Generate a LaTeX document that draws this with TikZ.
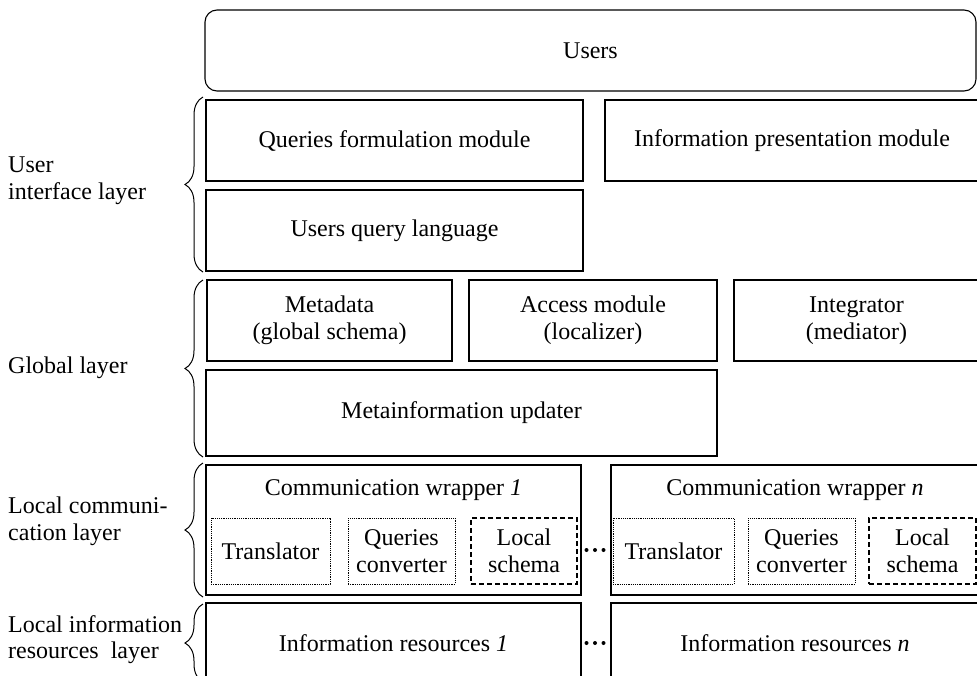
\documentclass[tikz,border=0pt]{standalone}
\usepackage{fontspec}
\setmainfont{Liberation Serif}
\usetikzlibrary{decorations.pathreplacing}
\begin{document}
\begin{tikzpicture}[x=1pt,y=-1pt,
  txt/.style={font=\fontsize{24}{27}\selectfont, inner sep=0pt},
  box/.style={txt, draw, line width=1.1pt, align=center, anchor=center},
  dotbox/.style={txt, draw, line width=1pt, dash pattern=on 1.2pt off 1pt, align=center, anchor=center},
  dashbox/.style={txt, draw, line width=1.1pt, dash pattern=on 5pt off 3pt, align=center, anchor=center},
  sz/.style 2 args={minimum width=#1pt, minimum height=#2pt},
  lbl/.style={txt, anchor=base west},
  layerbrace/.style={draw, line width=1pt, decorate, decoration={brace, amplitude=18pt}}]
\useasboundingbox (0,0) rectangle (977,675);
\clip (0,0) rectangle (977,675);

% users
\node[box, rounded corners=12pt, sz={771}{81}] (users) at (590.5,50.5) {Users};

% user interface layer
\node[box, sz={377}{81}] (qfm) at (394.5,140.5) {Queries formulation module};
\node[box, sz={374}{81}] (ipm) at (792,140.5) {Information presentation module};
\node[box, sz={377}{81}] (uql) at (394.5,230.5) {Users query language};

% global layer
\node[box, sz={245}{81}] (meta) at (329.5,320.5) {Metadata\\(global schema)};
\node[box, sz={248}{81}] (access) at (593,320.5) {Access module\\(localizer)};
\node[box, sz={245}{81}] (integ) at (856.5,320.5) {Integrator\\(mediator)};
\node[box, sz={511}{86}] (mupd) at (461.5,413) {Metainformation updater};

% local communication layer: wrapper 1
\node[box, sz={375}{130}] (cw1) at (393.5,530) {};
\node[txt, anchor=base] (cw1t) at (393.5,495) {Communication wrapper \textit{1}};
\node[dotbox, sz={119}{66}] (tr1) at (270.5,551) {Translator};
\node[dotbox, sz={107}{66}] (qc1) at (401.5,551) {Queries\\converter};
\node[dashbox, sz={106}{66}] (ls1) at (524,551) {Local\\schema};

% local communication layer: wrapper n
\node[box, sz={368}{130}] (cwn) at (795,530) {};
\node[txt, anchor=base] (cwnt) at (795,495) {Communication wrapper \textit{n}};
\node[dotbox, sz={121}{66}] (trn) at (673.5,551) {Translator};
\node[dotbox, sz={107}{66}] (qcn) at (801.5,551) {Queries\\converter};
\node[dashbox, sz={107}{66}] (lsn) at (922.5,551) {Local\\schema};

% local information resources layer
\node[box, sz={375}{80}] (ir1) at (393.5,643) {Information resources \textit{1}};
\node[box, sz={368}{80}] (irn) at (795,643) {Information resources \textit{n}};

% ellipses between the first and the n-th column
\foreach \y in {550,643} {
  \foreach \x in {586.5,595,603.5} \fill (\x,\y) circle[radius=2pt];
}

% layer braces
\draw[layerbrace] (203,272) -- (203,97);
\draw[layerbrace] (203,457) -- (203,280);
\draw[layerbrace] (203,597) -- (203,463);
\draw[layerbrace] (203,682) -- (203,604);

% layer names
\node[lbl] (ui1) at (8,172) {User};
\node[lbl] (ui2) at (8,199) {interface layer};
\node[lbl] (gl) at (8,373) {Global layer};
\node[lbl] (lc1) at (8,513) {Local communi-};
\node[lbl] (lc2) at (8,540) {cation layer};
\node[lbl] (li1) at (8,632) {Local information};
\node[lbl] (li2) at (8,658) {resources~ layer};
\end{tikzpicture}
\end{document}
